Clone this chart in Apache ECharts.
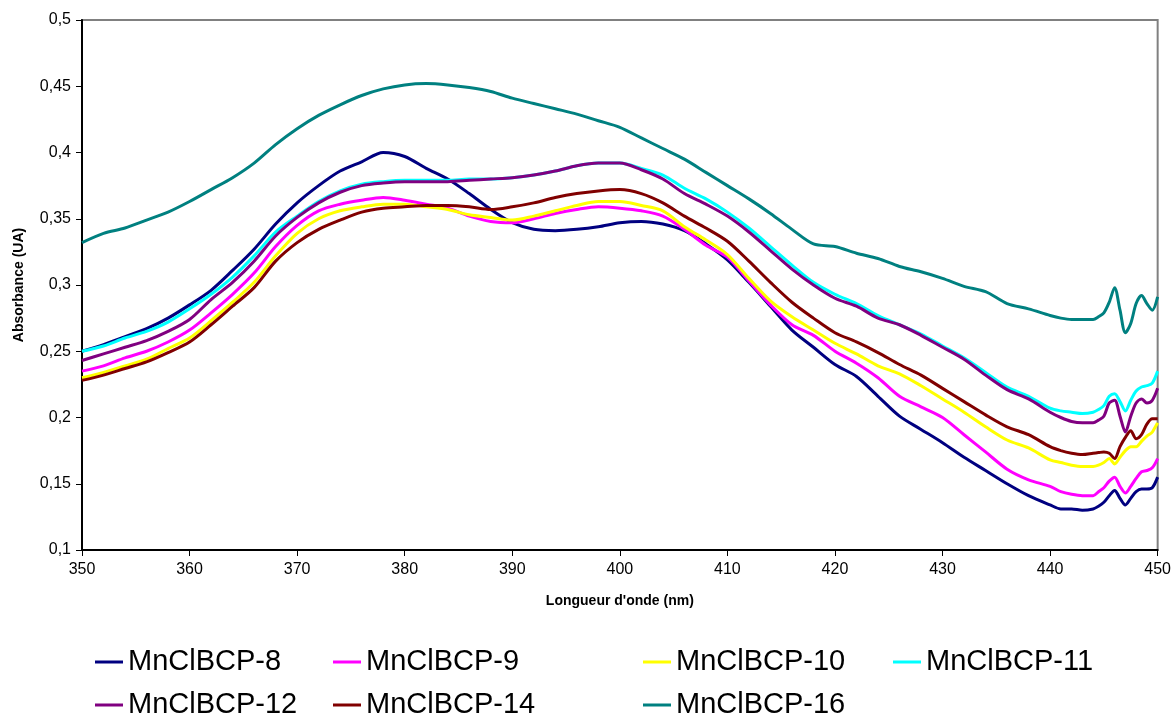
<!DOCTYPE html>
<html>
<head>
<meta charset="utf-8">
<script src="https://cdn.jsdelivr.net/npm/echarts@6/dist/echarts.min.js"></script>
<style>
html,body{margin:0;padding:0;background:#fff;}
#c{width:1174px;height:720px;}
</style>
</head>
<body>
<div id="c"></div>
<script>
var wavelengths = [350,352,354,356,358,360,362,364,366,368,370,372,374,376,378,380,382,384,386,388,390,392,394,396,398,400,402,404,406,408,410,412,414,416,418,420,422,424,426,428,430,432,434,436,438,440,441,442,443,444,444.5,445,445.5,446,446.5,447,447.5,448,448.5,449,449.5,450];

var seriesNames = ['MnClBCP-8','MnClBCP-9','MnClBCP-10','MnClBCP-11','MnClBCP-12','MnClBCP-14','MnClBCP-16'];
var seriesColors = ['#000080','#FF00FF','#FFFF00','#00FFFF','#800080','#800000','#008080'];

var mn8 = [0.250,0.255,0.261,0.267,0.275,0.285,0.296,0.311,0.327,0.346,0.362,0.375,0.386,0.393,0.400,0.397,0.388,0.380,0.369,0.357,0.347,0.342,0.341,0.342,0.344,0.347,0.348,0.346,0.341,0.331,0.319,0.302,0.284,0.266,0.253,0.240,0.231,0.216,0.201,0.191,0.181,0.170,0.160,0.150,0.141,0.134,0.131,0.131,0.130,0.131,0.133,0.136,0.141,0.145,0.139,0.134,0.139,0.144,0.146,0.146,0.147,0.155];
var mn9 = [0.235,0.239,0.245,0.250,0.257,0.266,0.279,0.293,0.309,0.329,0.345,0.356,0.361,0.364,0.366,0.364,0.361,0.358,0.352,0.348,0.347,0.350,0.354,0.357,0.359,0.358,0.356,0.352,0.342,0.330,0.321,0.303,0.285,0.270,0.262,0.250,0.241,0.230,0.216,0.208,0.200,0.187,0.174,0.161,0.153,0.148,0.144,0.142,0.141,0.141,0.144,0.147,0.152,0.155,0.148,0.143,0.148,0.154,0.159,0.160,0.162,0.169];
var mn10 = [0.230,0.234,0.239,0.244,0.252,0.260,0.273,0.287,0.302,0.322,0.339,0.350,0.356,0.359,0.361,0.361,0.359,0.357,0.353,0.351,0.349,0.352,0.356,0.360,0.363,0.363,0.360,0.356,0.344,0.334,0.323,0.305,0.288,0.276,0.266,0.256,0.248,0.239,0.233,0.224,0.214,0.204,0.193,0.183,0.177,0.168,0.166,0.164,0.163,0.163,0.164,0.166,0.169,0.165,0.170,0.175,0.178,0.178,0.182,0.186,0.189,0.196];
var mn11 = [0.250,0.254,0.260,0.265,0.272,0.282,0.293,0.306,0.322,0.340,0.352,0.363,0.371,0.376,0.378,0.379,0.379,0.379,0.380,0.380,0.381,0.383,0.386,0.390,0.392,0.392,0.388,0.383,0.373,0.365,0.355,0.343,0.329,0.315,0.302,0.293,0.286,0.277,0.270,0.263,0.254,0.245,0.234,0.223,0.216,0.207,0.205,0.204,0.203,0.204,0.206,0.209,0.216,0.218,0.212,0.205,0.213,0.220,0.223,0.224,0.226,0.235];
var mn12 = [0.243,0.248,0.253,0.258,0.265,0.274,0.289,0.302,0.318,0.337,0.351,0.362,0.370,0.375,0.377,0.378,0.378,0.378,0.379,0.380,0.381,0.383,0.386,0.390,0.392,0.392,0.387,0.380,0.369,0.361,0.352,0.340,0.326,0.312,0.300,0.290,0.284,0.275,0.270,0.262,0.253,0.244,0.232,0.221,0.214,0.204,0.200,0.197,0.196,0.196,0.198,0.201,0.211,0.213,0.201,0.189,0.201,0.211,0.214,0.211,0.213,0.222];
var mn14 = [0.228,0.232,0.237,0.242,0.249,0.257,0.270,0.284,0.298,0.318,0.332,0.342,0.349,0.355,0.358,0.359,0.360,0.360,0.359,0.357,0.359,0.362,0.366,0.369,0.371,0.372,0.369,0.362,0.352,0.343,0.333,0.318,0.302,0.287,0.275,0.264,0.257,0.249,0.240,0.232,0.222,0.212,0.202,0.193,0.187,0.178,0.175,0.173,0.172,0.173,0.1735,0.174,0.173,0.169,0.178,0.185,0.190,0.184,0.187,0.195,0.199,0.199];
var mn16 = [0.332,0.339,0.343,0.349,0.355,0.363,0.372,0.381,0.392,0.406,0.418,0.428,0.436,0.443,0.448,0.451,0.452,0.451,0.449,0.446,0.441,0.437,0.433,0.429,0.424,0.419,0.411,0.403,0.395,0.385,0.375,0.365,0.354,0.342,0.331,0.329,0.324,0.320,0.314,0.310,0.305,0.299,0.295,0.286,0.282,0.277,0.275,0.274,0.274,0.274,0.276,0.279,0.287,0.298,0.281,0.264,0.271,0.286,0.292,0.286,0.281,0.291];

var seriesValues = [mn8, mn9, mn10, mn11, mn12, mn14, mn16];

function pairs(vals){ return wavelengths.map(function(w,i){ return [w, vals[i]]; }); }
function comma(v){ return String(Math.round(v*1000)/1000).replace('.', ','); }

var series = seriesNames.map(function(n,i){
  return {
    name: n, type: 'line', data: pairs(seriesValues[i]),
    showSymbol: false, symbol: 'none', smooth: 0.3,
    lineStyle: {color: seriesColors[i], width: 3},
    itemStyle: {color: seriesColors[i]},
    animation: false
  };
});

// legend slot positions (column, row) for each series
var legendLefts = [95, 333, 643, 893, 95, 333, 643];
var legendTops = [647, 647, 647, 647, 690, 690, 690];
var legends = seriesNames.map(function(n, i){
  return {
    left: legendLefts[i], top: legendTops[i], padding: 0,
    itemWidth: 28, itemHeight: 3, itemGap: 0, icon: 'rect',
    data: [n],
    textStyle: {fontFamily: 'Liberation Sans, Arial', fontSize: 29, color: '#000', lineHeight: 30},
    selectedMode: false
  };
});

var chart = echarts.init(document.getElementById('c'), null, {renderer: 'canvas'});
chart.setOption({
  backgroundColor: '#fff',
  animation: false,
  grid: {left: 82, right: 16, top: 20, bottom: 170, show: true, borderColor: '#808080', borderWidth: 2, backgroundColor: 'transparent'},
  legend: legends,
  xAxis: {
    type: 'value', min: 350, max: 450, interval: 10,
    name: "Longueur d'onde (nm)", nameLocation: 'middle', nameGap: 44,
    nameTextStyle: {fontFamily: 'Liberation Sans, Arial', fontWeight: 'bold', fontSize: 14, color: '#000'},
    axisLine: {show: true, onZero: false, lineStyle: {color: '#000', width: 2}},
    axisTick: {show: true, inside: false, length: 6, lineStyle: {color: '#000', width: 1}},
    axisLabel: {margin: 12, fontFamily: 'Liberation Sans, Arial', fontSize: 16, color: '#000'},
    splitLine: {show: false}
  },
  yAxis: {
    type: 'value', min: 0.1, max: 0.5, interval: 0.05,
    name: 'Absorbance (UA)', nameLocation: 'middle', nameGap: 56,
    nameTextStyle: {fontFamily: 'Liberation Sans, Arial', fontWeight: 'bold', fontSize: 14, color: '#000'},
    axisLine: {show: true, onZero: false, lineStyle: {color: '#000', width: 2}},
    axisTick: {show: true, inside: false, length: 6, lineStyle: {color: '#000', width: 1}},
    axisLabel: {margin: 11, fontFamily: 'Liberation Sans, Arial', fontSize: 16, color: '#000', formatter: comma},
    splitLine: {show: false}
  },
  series: series
});
</script>
</body>
</html>
